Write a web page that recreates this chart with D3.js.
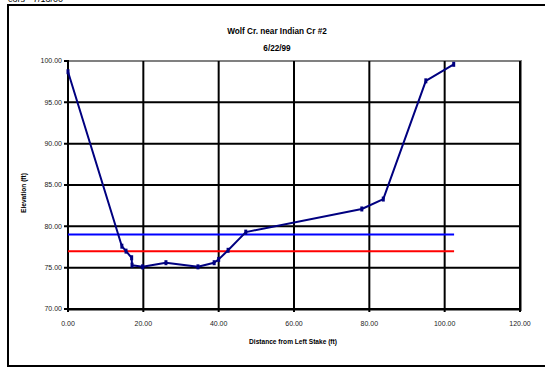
<!DOCTYPE html>
<html><head><meta charset="utf-8">
<script src="https://cdn.jsdelivr.net/npm/d3@7"></script>
<style>body{margin:0;background:#fff}svg{display:block}text{font-family:"Liberation Sans",Arial,sans-serif}</style>
</head><body>
<svg id="c" width="545" height="367"></svg>
<script>
const distance = [0, 14.3, 15.4, 16.9, 17.0, 19.8, 26.0, 34.5, 38.8, 40.0, 42.5, 47.2, 78.0, 83.7, 95.0, 102.4];
const elevation = [98.7, 77.6, 77.0, 76.2, 75.3, 75.1, 75.6, 75.1, 75.6, 76.0, 77.1, 79.3, 82.1, 83.3, 97.6, 99.6];
const blueLevel = [79, 79];
const redLevel = [77, 77];
const levelExtent = [0, 102.5];
const xTicks = [0, 20, 40, 60, 80, 100, 120];
const yTicks = [70, 75, 80, 85, 90, 95, 100];
const title1 = "Wolf Cr. near Indian Cr #2";
const title2 = "6/22/99";
const xTitle = "Distance from Left Stake (ft)";
const yTitle = "Elevation (ft)";

const svg = d3.select("#c");
const x = d3.scaleLinear().domain([0, 120]).range([68, 520]);
const y = d3.scaleLinear().domain([70, 100]).range([309, 61]);

// cropped header text
svg.append("text").attr("x", 8).attr("y", 2).attr("font-size", 9).attr("fill", "#000").text("cors - 7/13/00");

// outer frame
svg.append("rect").attr("x", 8).attr("y", 5).attr("width", 560).attr("height", 361)
  .attr("fill", "none").attr("stroke", "#000").attr("stroke-width", 2);

// plot border (gray)
svg.append("rect").attr("x", x(0)).attr("y", y(100)).attr("width", x(120) - x(0) + 1).attr("height", y(70) - y(100) + 1)
  .attr("fill", "none").attr("stroke", "#808080").attr("stroke-width", 2);

// gridlines
svg.append("g").selectAll("line").data(xTicks.filter(d => d > 0)).join("line")
  .attr("x1", d => x(d)).attr("x2", d => x(d)).attr("y1", y(100)).attr("y2", y(70) + 3)
  .attr("stroke", "#000").attr("stroke-width", 2);
svg.append("g").selectAll("line").data(yTicks.filter(d => d < 100)).join("line")
  .attr("x1", x(0) - 4).attr("x2", x(120)).attr("y1", d => y(d)).attr("y2", d => y(d))
  .attr("stroke", "#000").attr("stroke-width", 2);
// y=100 tick
svg.append("line").attr("x1", x(0) - 4).attr("x2", x(0)).attr("y1", y(100)).attr("y2", y(100)).attr("stroke", "#000").attr("stroke-width", 2);
// axis lines
svg.append("line").attr("x1", x(0)).attr("x2", x(0)).attr("y1", y(100) - 1).attr("y2", y(70) + 3).attr("stroke", "#000").attr("stroke-width", 2);

// tick labels
svg.append("g").selectAll("text").data(yTicks).join("text")
  .attr("x", 62).attr("y", d => y(d)).attr("dy", "0.35em").attr("text-anchor", "end")
  .attr("font-size", 7).attr("fill", "#222").text(d => d3.format(".2f")(d));
svg.append("g").selectAll("text").data(xTicks).join("text")
  .attr("x", d => x(d)).attr("y", 324).attr("dy", "0.35em").attr("text-anchor", "middle")
  .attr("font-size", 7).attr("fill", "#222").text(d => d3.format(".2f")(d));

// titles
svg.append("text").attr("x", 277).attr("y", 31).attr("dy", "0.35em").attr("text-anchor", "middle")
  .attr("font-size", 8.2).attr("font-weight", "bold").text(title1);
svg.append("text").attr("x", 277).attr("y", 48.5).attr("dy", "0.35em").attr("text-anchor", "middle")
  .attr("font-size", 8.2).attr("font-weight", "bold").text(title2);
svg.append("text").attr("x", 293).attr("y", 342).attr("dy", "0.35em").attr("text-anchor", "middle")
  .attr("font-size", 6.6).attr("font-weight", "bold").text(xTitle);
svg.append("text").attr("transform", "translate(24,193) rotate(-90)").attr("dy", "0.35em").attr("text-anchor", "middle")
  .attr("font-size", 6.6).attr("font-weight", "bold").text(yTitle);

// level lines
const lvl = d3.line().x((d, i) => x(levelExtent[i])).y(d => y(d));
svg.append("path").attr("d", lvl(blueLevel)).attr("stroke", "#0000ff").attr("stroke-width", 2).attr("fill", "none");
svg.append("path").attr("d", lvl(redLevel)).attr("stroke", "#ff0000").attr("stroke-width", 2).attr("fill", "none");

// profile
const pts = distance.map((d, i) => [d, elevation[i]]);
svg.append("path").attr("d", d3.line().x(d => x(d[0])).y(d => y(d[1]))(pts))
  .attr("stroke", "#000080").attr("stroke-width", 2).attr("fill", "none").attr("stroke-linejoin", "round");
svg.append("g").selectAll("rect").data(pts).join("rect")
  .attr("x", d => x(d[0]) - 1.5).attr("y", d => y(d[1]) - 2.5).attr("width", 3).attr("height", 5).attr("fill", "#000080");
</script>
</body></html>
